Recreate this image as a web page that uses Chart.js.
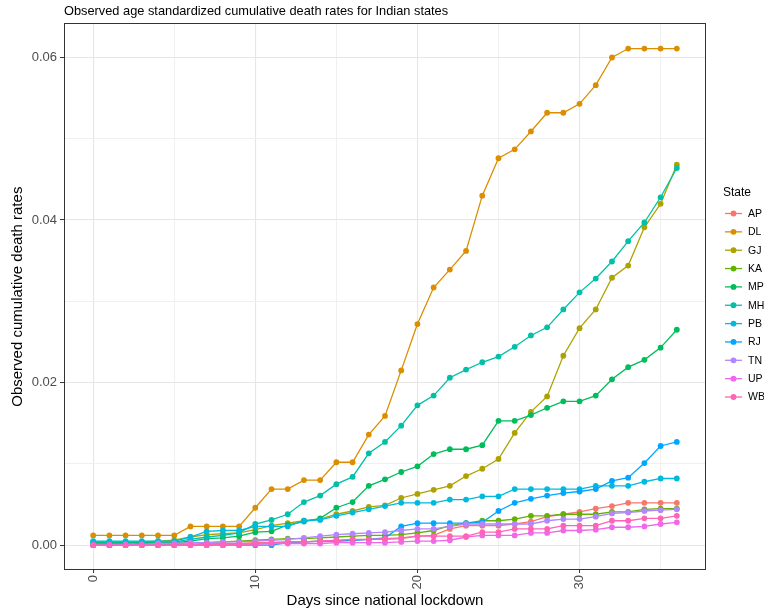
<!DOCTYPE html>
<html>
<head>
<meta charset="utf-8">
<script src="https://cdn.jsdelivr.net/npm/chart.js@4"></script>
<style>
  html, body { margin: 0; padding: 0; background: #ffffff; }
  canvas { display: block; }
</style>
</head>
<body>
<canvas id="chart" width="764" height="612"></canvas>
<script>
// Days since the national lockdown (x values)
const days = [0,1,2,3,4,5,6,7,8,9,10,11,12,13,14,15,16,17,18,19,20,21,22,23,24,25,26,27,28,29,30,31,32,33,34,35,36];

const states = ['AP','DL','GJ','KA','MP','MH','PB','RJ','TN','UP','WB'];
const stateColors = ['#F8766D','#DB8E00','#AEA200','#64B200','#00BD5C','#00C1A7','#00BADE','#00A6FF','#B385FF','#EF67EB','#FF63B6'];

// Observed age standardized cumulative death rates, one array per state
const AP = [0,0,0,0,0,0.0001,0.0001,0.0002,0.0002,0.0002,0.0003,0.0003,0.0004,0.0004,0.0005,0.0005,0.0006,0.0007,0.0007,0.0008,0.0011,0.0012,0.0020,0.0024,0.0024,0.0024,0.0026,0.0029,0.0035,0.0038,0.0041,0.0045,0.0048,0.0052,0.0052,0.0052,0.0052];
const DL = [0.0012,0.0012,0.0012,0.0012,0.0012,0.0012,0.0023,0.0023,0.0023,0.0023,0.0046,0.0069,0.0069,0.0080,0.0080,0.0102,0.0102,0.0136,0.0159,0.0215,0.0272,0.0317,0.0339,0.0362,0.0430,0.0476,0.0487,0.0509,0.0532,0.0532,0.0543,0.0566,0.0600,0.0611,0.0611,0.0611,0.0611];
const GJ = [0.0002,0.0002,0.0002,0.0004,0.0005,0.0006,0.0010,0.0013,0.0014,0.0015,0.0019,0.0024,0.0027,0.0030,0.0032,0.0038,0.0042,0.0047,0.0049,0.0058,0.0063,0.0068,0.0073,0.0085,0.0094,0.0106,0.0138,0.0164,0.0183,0.0233,0.0267,0.0290,0.0329,0.0344,0.0391,0.0420,0.0468];
const KA = [0.0001,0.0001,0.0001,0.0002,0.0002,0.0002,0.0003,0.0003,0.0004,0.0005,0.0006,0.0007,0.0008,0.0008,0.0009,0.0010,0.0011,0.0012,0.0012,0.0013,0.0015,0.0018,0.0024,0.0027,0.0030,0.0030,0.0032,0.0036,0.0036,0.0038,0.0038,0.0038,0.0041,0.0041,0.0044,0.0045,0.0045];
const MP = [0.0003,0.0003,0.0003,0.0003,0.0003,0.0003,0.0005,0.0008,0.0009,0.0011,0.0016,0.0017,0.0025,0.0029,0.0033,0.0046,0.0053,0.0073,0.0081,0.0090,0.0097,0.0112,0.0118,0.0118,0.0123,0.0153,0.0153,0.0160,0.0169,0.0177,0.0177,0.0184,0.0204,0.0219,0.0228,0.0243,0.0265];
const MH = [0.0004,0.0004,0.0004,0.0004,0.0004,0.0004,0.0007,0.0010,0.0012,0.0015,0.0026,0.0031,0.0038,0.0053,0.0061,0.0075,0.0084,0.0113,0.0127,0.0147,0.0172,0.0184,0.0206,0.0216,0.0225,0.0232,0.0244,0.0258,0.0268,0.0290,0.0311,0.0328,0.0349,0.0374,0.0397,0.0428,0.0464];
const PB = [0.0005,0.0005,0.0005,0.0005,0.0005,0.0005,0.0010,0.0017,0.0018,0.0018,0.0023,0.0023,0.0023,0.0030,0.0031,0.0036,0.0040,0.0044,0.0048,0.0052,0.0052,0.0052,0.0056,0.0056,0.0060,0.0060,0.0069,0.0069,0.0069,0.0069,0.0069,0.0073,0.0073,0.0073,0.0078,0.0082,0.0082];
const RJ = [0,0,0,0,0,0,0,0,0,0,0,0,0.0003,0.0004,0.0005,0.0005,0.0006,0.0007,0.0009,0.0023,0.0027,0.0027,0.0027,0.0027,0.0028,0.0042,0.0052,0.0057,0.0061,0.0064,0.0066,0.0069,0.0079,0.0083,0.0101,0.0122,0.0127];
const TN = [0,0,0.0001,0.0001,0.0002,0.0002,0.0003,0.0003,0.0004,0.0004,0.0005,0.0006,0.0007,0.0009,0.0011,0.0013,0.0014,0.0015,0.0016,0.0018,0.0020,0.0020,0.0023,0.0026,0.0026,0.0026,0.0026,0.0026,0.0030,0.0032,0.0032,0.0035,0.0039,0.0040,0.0042,0.0043,0.0044];
const UP = [0,0,0,0,0,0,0,0,0,0,0.0001,0.0002,0.0002,0.0002,0.0002,0.0003,0.0003,0.0003,0.0003,0.0004,0.0005,0.0005,0.0006,0.0010,0.0012,0.0012,0.0012,0.0015,0.0015,0.0018,0.0018,0.0019,0.0022,0.0022,0.0023,0.0026,0.0028];
const WB = [0,0,0,0,0,0,0.0001,0.0001,0.0001,0.0001,0.0002,0.0003,0.0004,0.0004,0.0005,0.0006,0.0007,0.0007,0.0008,0.0009,0.0011,0.0011,0.0011,0.0011,0.0016,0.0016,0.0020,0.0020,0.0020,0.0024,0.0024,0.0024,0.0030,0.0030,0.0033,0.0033,0.0036];

const seriesValues = [AP, DL, GJ, KA, MP, MH, PB, RJ, TN, UP, WB];

// Axis breaks: labelled majors plus unlabelled minors
const xBreaks = [0,5,10,15,20,25,30,35];
const xTickLabels = {0:'0', 10:'10', 20:'20', 30:'30'};
const yBreaks = [0,0.01,0.02,0.03,0.04,0.05,0.06];
const yTickLabels = ['0.00','','0.02','','0.04','','0.06'];

const FONT = '"Liberation Sans", Arial, Helvetica, sans-serif';
const AXIS_TEXT = '#4D4D4D';
const GRID_MAJOR = '#E6E6E6';
const GRID_MINOR = '#EEEEEE';

const datasets = states.map((name, i) => ({
  label: name,
  data: days.map((d, k) => ({ x: d, y: seriesValues[i][k] })),
  borderColor: stateColors[i],
  backgroundColor: stateColors[i],
  pointBackgroundColor: stateColors[i],
  pointBorderWidth: 0,
  pointRadius: 2.9,
  borderWidth: 1.3,
  tension: 0,
  fill: false,
  order: states.length - i
}));

// Panel border around the plotting area (theme_bw style)
const panelFrame = {
  id: 'panelFrame',
  afterDatasetsDraw(chart) {
    const { ctx, chartArea: a } = chart;
    ctx.save();
    ctx.strokeStyle = '#333333';
    ctx.lineWidth = 1;
    ctx.strokeRect(Math.round(a.left) + 0.5, Math.round(a.top) + 0.5,
                   Math.round(a.right - a.left) - 1, Math.round(a.bottom - a.top) - 1);
    ctx.restore();
  }
};

// Legend on the right: title, then a line-with-point key per state
const stateLegend = {
  id: 'stateLegend',
  afterDraw(chart) {
    const ctx = chart.ctx;
    ctx.save();
    ctx.fillStyle = '#000000';
    ctx.textBaseline = 'middle';
    ctx.textAlign = 'left';
    ctx.font = '12px ' + FONT;
    ctx.fillText('State', 723, 193);
    ctx.font = '10.5px ' + FONT;
    states.forEach((name, i) => {
      const y = 213.5 + i * 18.35;
      ctx.strokeStyle = stateColors[i];
      ctx.lineWidth = 1.3;
      ctx.beginPath();
      ctx.moveTo(725, y);
      ctx.lineTo(742, y);
      ctx.stroke();
      ctx.fillStyle = stateColors[i];
      ctx.beginPath();
      ctx.arc(733.5, y, 2.9, 0, Math.PI * 2);
      ctx.fill();
      ctx.fillStyle = '#000000';
      ctx.fillText(name, 748, y + 0.5);
    });
    ctx.restore();
  }
};

new Chart(document.getElementById('chart'), {
  type: 'line',
  data: { datasets },
  options: {
    responsive: false,
    animation: false,
    devicePixelRatio: 1,
    layout: { padding: { left: 0, right: 58, top: 0, bottom: 0 } },
    plugins: {
      legend: { display: false },
      tooltip: { enabled: false },
      title: {
        display: true,
        text: 'Observed age standardized cumulative death rates for Indian states',
        align: 'start',
        fullSize: false,
        color: '#000000',
        font: { family: FONT, size: 12.8, weight: 'normal' },
        padding: { top: 4, bottom: 4 }
      }
    },
    scales: {
      x: {
        type: 'linear',
        min: -1.8,
        max: 37.8,
        afterBuildTicks: (scale) => { scale.ticks = xBreaks.map(v => ({ value: v })); },
        afterFit: (scale) => { scale.height = 42; },
        ticks: {
          autoSkip: false,
          minRotation: 90,
          maxRotation: 90,
          padding: 2,
          color: AXIS_TEXT,
          font: { family: FONT, size: 13 },
          callback: (v) => xTickLabels[v] !== undefined ? xTickLabels[v] : ''
        },
        grid: {
          color: (c) => (c.tick && c.tick.value % 10 === 0) ? GRID_MAJOR : GRID_MINOR,
          lineWidth: (c) => (c.tick && c.tick.value % 10 === 0) ? 1.1 : 0.9,
          tickLength: 3,
          tickColor: (c) => (c.tick && c.tick.value % 10 === 0) ? '#333333' : 'rgba(0,0,0,0)',
          tickWidth: 1
        },
        border: { display: false },
        title: {
          display: true,
          text: 'Days since national lockdown',
          color: '#000000',
          font: { family: FONT, size: 15 },
          padding: { top: 0, bottom: 2 }
        }
      },
      y: {
        type: 'linear',
        min: -0.00306,
        max: 0.0642,
        afterBuildTicks: (scale) => { scale.ticks = yBreaks.map(v => ({ value: v })); },
        afterFit: (scale) => { scale.width = 64; },
        ticks: {
          padding: 3,
          color: AXIS_TEXT,
          font: { family: FONT, size: 13 },
          callback: (v, idx) => yTickLabels[idx]
        },
        grid: {
          color: (c) => c.index % 2 === 0 ? GRID_MAJOR : GRID_MINOR,
          lineWidth: (c) => c.index % 2 === 0 ? 1.1 : 0.9,
          tickLength: 4,
          tickColor: (c) => c.index % 2 === 0 ? '#333333' : 'rgba(0,0,0,0)',
          tickWidth: 1
        },
        border: { display: false },
        title: {
          display: true,
          text: 'Observed cumulative death rates',
          color: '#000000',
          font: { family: FONT, size: 15 },
          padding: { top: 9, bottom: 0 }
        }
      }
    }
  },
  plugins: [panelFrame, stateLegend]
});
</script>
</body>
</html>
